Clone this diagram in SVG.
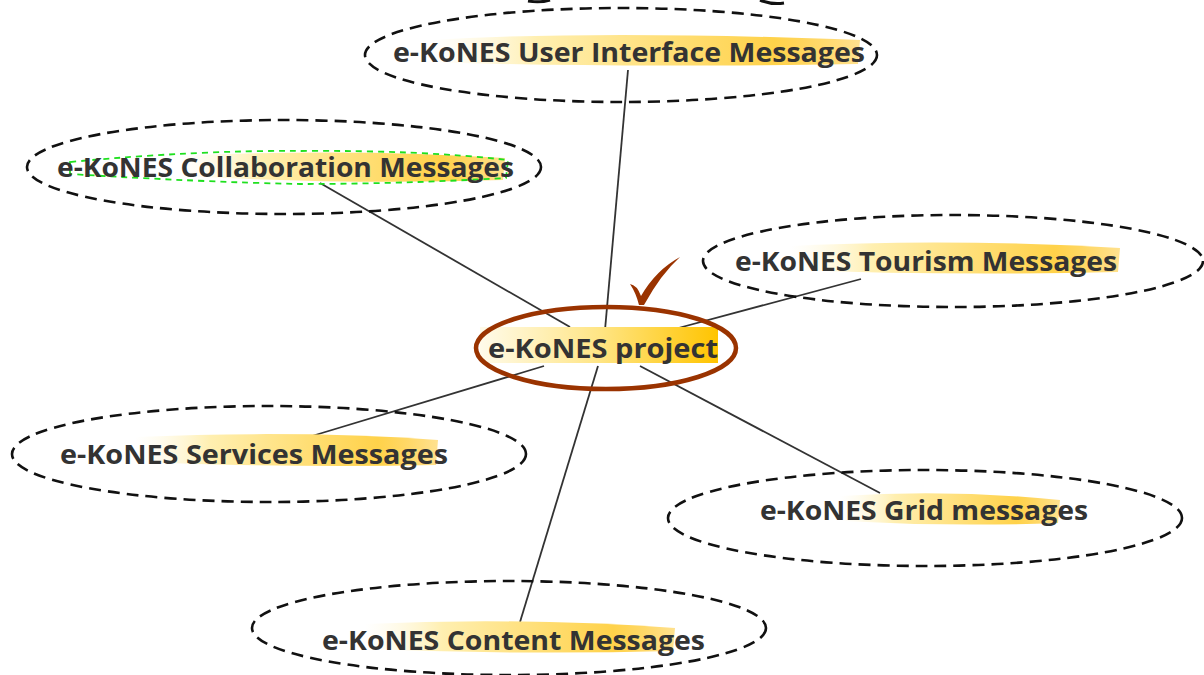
<svg xmlns="http://www.w3.org/2000/svg" width="1204" height="675" viewBox="0 0 1204 675">
  <style>
    .dash { fill: none; stroke: #111; stroke-width: 2.6; stroke-dasharray: 12 7; }
    .lbl { font-family: "Open Sans", "DejaVu Sans", sans-serif; font-weight: 700; font-size: 26px; fill: #333333; }
    .conn line { stroke: #333; stroke-width: 1.8; }
  </style>
  <defs>
    <linearGradient id="hl" x1="0" y1="0" x2="1" y2="0">
      <stop offset="0" stop-color="#fff7d8" stop-opacity="0"/>
      <stop offset="0.25" stop-color="#ffefb0"/>
      <stop offset="0.8" stop-color="#ffd24a"/>
      <stop offset="1" stop-color="#ffc420" stop-opacity="0.5"/>
    </linearGradient>
    <linearGradient id="hlc" x1="0" y1="0" x2="1" y2="0">
      <stop offset="0" stop-color="#fffbea"/>
      <stop offset="0.5" stop-color="#ffe585"/>
      <stop offset="1" stop-color="#ffc400"/>
    </linearGradient>
  </defs>
  <rect width="1204" height="675" fill="#ffffff"/>

  <!-- fragments at top edge -->
  <path d="M528 1 Q 540 3 550 0" fill="none" stroke="#111" stroke-width="3"/>
  <path d="M760 0 Q 772 5 784 3" fill="none" stroke="#111" stroke-width="3"/>

  <g class="conn" id="connectors">
    <line x1="628" y1="70" x2="605" y2="330"/>
    <line x1="320" y1="183" x2="570" y2="327"/>
    <line x1="861" y1="279" x2="671" y2="330"/>
    <line x1="312" y1="436" x2="544" y2="366"/>
    <line x1="640" y1="366" x2="880" y2="493"/>
    <line x1="598" y1="366" x2="520" y2="622"/>
  </g>

  <g id="node-ui">
    <path d="M430 40 Q 600 30 860 40 L 858 64 Q 600 68 432 62 Z" fill="url(#hl)"/>
    <ellipse class="dash" cx="621" cy="55" rx="256" ry="47"/>
    <text class="lbl" x="393" y="62" textLength="472" lengthAdjust="spacingAndGlyphs">e-KoNES User Interface Messages</text>
  </g>

  <g id="node-collab">
    <path d="M180 156 Q 350 148 505 158 L 503 180 Q 350 185 182 176 Z" fill="url(#hl)"/>
    <path d="M70 162 Q 200 150 300 151 Q 420 150 508 160 L 506 178 Q 400 184 300 184 Q 200 182 70 174 Z" fill="none" stroke="#1fe01f" stroke-width="1.8" stroke-dasharray="6 5"/>
    <ellipse class="dash" cx="284" cy="167" rx="257" ry="47"/>
    <text class="lbl" x="57" y="177" textLength="457" lengthAdjust="spacingAndGlyphs">e-KoNES Collaboration Messages</text>
  </g>

  <g id="node-project">
    <rect x="480" y="327" width="238" height="36" fill="url(#hlc)"/>
    <ellipse cx="606" cy="348" rx="130" ry="41" fill="none" stroke="#9a3300" stroke-width="4.5"/>
    <text class="lbl" x="488" y="358" textLength="230" lengthAdjust="spacingAndGlyphs">e-KoNES project</text>
    <path d="M630 284 Q 637 285 641 296 Q 656 270 680 257 Q 661 274 644 305 L 639 305 Q 636 293 630 284 Z" fill="#9a3300"/>
  </g>

  <g id="node-tourism">
    <path d="M790 246 Q 950 238 1120 248 L 1118 272 Q 950 276 792 270 Z" fill="url(#hl)"/>
    <ellipse class="dash" cx="953" cy="261" rx="250" ry="46"/>
    <text class="lbl" x="735" y="271" textLength="382" lengthAdjust="spacingAndGlyphs">e-KoNES Tourism Messages</text>
  </g>

  <g id="node-services">
    <path d="M135 437 Q 300 430 438 440 L 436 465 Q 300 468 137 462 Z" fill="url(#hl)"/>
    <ellipse class="dash" cx="269" cy="454" rx="257" ry="48"/>
    <text class="lbl" x="60" y="464" textLength="388" lengthAdjust="spacingAndGlyphs">e-KoNES Services Messages</text>
  </g>

  <g id="node-grid">
    <path d="M840 496 Q 950 489 1060 500 L 1058 523 Q 950 527 842 521 Z" fill="url(#hl)"/>
    <ellipse class="dash" cx="925" cy="518" rx="257" ry="48"/>
    <text class="lbl" x="760" y="520" textLength="328" lengthAdjust="spacingAndGlyphs">e-KoNES Grid messages</text>
  </g>

  <g id="node-content">
    <path d="M365 624 Q 520 617 675 628 L 673 651 Q 520 655 367 649 Z" fill="url(#hl)"/>
    <ellipse class="dash" cx="509" cy="628" rx="257" ry="47"/>
    <text class="lbl" x="322" y="650" textLength="383" lengthAdjust="spacingAndGlyphs">e-KoNES Content Messages</text>
  </g>
</svg>
